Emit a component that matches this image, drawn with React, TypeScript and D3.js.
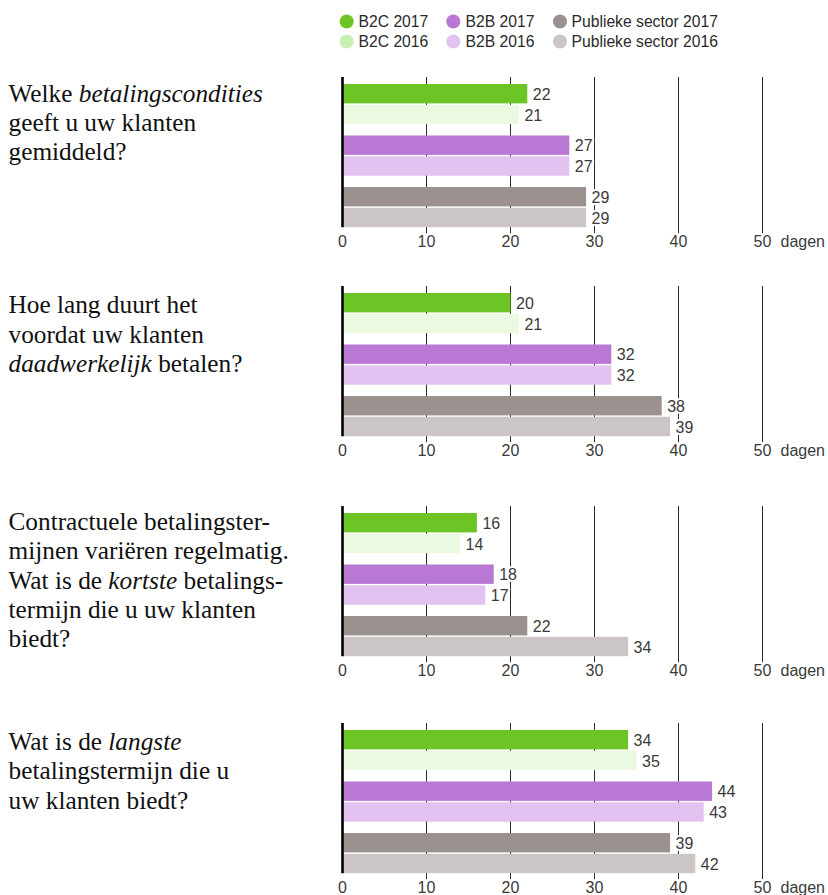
import React from "react";
import * as d3 from "d3";

const categories = ["B2C 2017", "B2C 2016", "B2B 2017", "B2B 2016", "Publieke sector 2017", "Publieke sector 2016"];
const barColors = ["#6cc524", "#ecf9e1", "#b978d4", "#e1c2f0", "#9b9290", "#cbc6c5"];
const legendColors = ["#6cc524", "#c9f0b4", "#b978d4", "#e1c2f0", "#9b9290", "#cbc6c5"];

const q1Values = [22, 21, 27, 27, 29, 29];
const q2Values = [20, 21, 32, 32, 38, 39];
const q3Values = [16, 14, 18, 17, 22, 34];
const q4Values = [34, 35, 44, 43, 39, 42];
const panelValues = [q1Values, q2Values, q3Values, q4Values];

const tickValues = [0, 10, 20, 30, 40, 50];
const unitLabel = "dagen";

type Seg = { t: string; i?: boolean };
const q1Text: Seg[][] = [
  [{ t: "Welke " }, { t: "betalingscondities", i: true }],
  [{ t: "geeft u uw klanten" }],
  [{ t: "gemiddeld?" }],
];
const q2Text: Seg[][] = [
  [{ t: "Hoe lang duurt het" }],
  [{ t: "voordat uw klanten" }],
  [{ t: "daadwerkelijk", i: true }, { t: " betalen?" }],
];
const q3Text: Seg[][] = [
  [{ t: "Contractuele betalingster-" }],
  [{ t: "mijnen variëren regelmatig." }],
  [{ t: "Wat is de " }, { t: "kortste", i: true }, { t: " betalings-" }],
  [{ t: "termijn die u uw klanten" }],
  [{ t: "biedt?" }],
];
const q4Text: Seg[][] = [
  [{ t: "Wat is de " }, { t: "langste", i: true }],
  [{ t: "betalingstermijn die u" }],
  [{ t: "uw klanten biedt?" }],
];
const panelTexts = [q1Text, q2Text, q3Text, q4Text];

// layout
const W = 828;
const H = 895;
const panelTops = [84, 293, 513, 730];
const textBaselines = [101.7, 313.3, 530, 750];
const barH = 19.4;
const pairStep = 20.8;
const groupStep = 51.5;
const lineH = 29.3;
const sans = "'Liberation Sans', Arial, Helvetica, sans-serif";
const serif = "'Liberation Serif', 'Times New Roman', serif";

export default function App() {
  const x = d3.scaleLinear().domain([0, 50]).range([342.5, 762.5]);
  const barY = (i: number) => Math.floor(i / 2) * groupStep + (i % 2) * pairStep;

  const legendCols = [
    { cx: 346.7, tx: 358.5 },
    { cx: 453.3, tx: 465.5 },
    { cx: 560, tx: 571.5 },
  ];
  const legendRows = [21.5, 41.5];

  return (
    <svg width={W} height={H} style={{ position: "absolute", left: 0, top: 0, background: "#fff" }}>
      {/* legend */}
      {categories.map((c, i) => {
        const col = legendCols[Math.floor(i / 2)];
        const y = legendRows[i % 2];
        return (
          <g key={c}>
            <circle cx={col.cx} cy={y} r={7} fill={legendColors[i]} />
            <text x={col.tx} y={y + 5.5} fontFamily={sans} fontSize={15.7} fill="#2a2a2a">
              {c}
            </text>
          </g>
        );
      })}

      {panelValues.map((vals, p) => {
        const top = panelTops[p];
        const bottom = top + barY(5) + barH;
        return (
          <g key={p}>
            {/* question */}
            <text fontFamily={serif} fontSize={25.3} fill="#111">
              {panelTexts[p].map((line, li) => (
                <tspan key={li} x={8.5} y={textBaselines[p] + li * lineH}>
                  {line.map((s, si) => (
                    <tspan key={si} fontStyle={s.i ? "italic" : "normal"}>
                      {s.t}
                    </tspan>
                  ))}
                </tspan>
              ))}
            </text>
            {/* gridlines */}
            {tickValues.slice(1).map((t) => (
              <line key={t} x1={x(t)} x2={x(t)} y1={top - 7} y2={bottom + 6} stroke="#2a2a2a" strokeWidth={1} />
            ))}
            {/* bars */}
            {vals.map((v, i) => (
              <rect key={i} x={x(0)} y={top + barY(i)} width={x(v) - x(0)} height={barH} fill={barColors[i]} />
            ))}
            {/* zero line */}
            <line x1={x(0)} x2={x(0)} y1={top - 7} y2={bottom} stroke="#000" strokeWidth={2.6} />
            {/* value labels */}
            {vals.map((v, i) => (
              <text
                key={"v" + i}
                x={x(v) + 5.5}
                y={top + barY(i) + barH / 2 + 6}
                fontFamily={sans}
                fontSize={16}
                fill="#3a3a3a"
                stroke="#fff"
                strokeWidth={4}
                paintOrder="stroke"
                strokeLinejoin="round"
              >
                {v}
              </text>
            ))}
            {/* tick labels */}
            {tickValues.map((t) => (
              <text
                key={"t" + t}
                x={x(t)}
                y={bottom + 19.7}
                textAnchor="middle"
                fontFamily={sans}
                fontSize={16}
                fill="#3a3a3a"
                stroke="#fff"
                strokeWidth={3}
                paintOrder="stroke"
              >
                {t}
              </text>
            ))}
            <text x={x(50) + 18} y={bottom + 19.7} fontFamily={sans} fontSize={16} fill="#3a3a3a">
              {unitLabel}
            </text>
          </g>
        );
      })}
    </svg>
  );
}
